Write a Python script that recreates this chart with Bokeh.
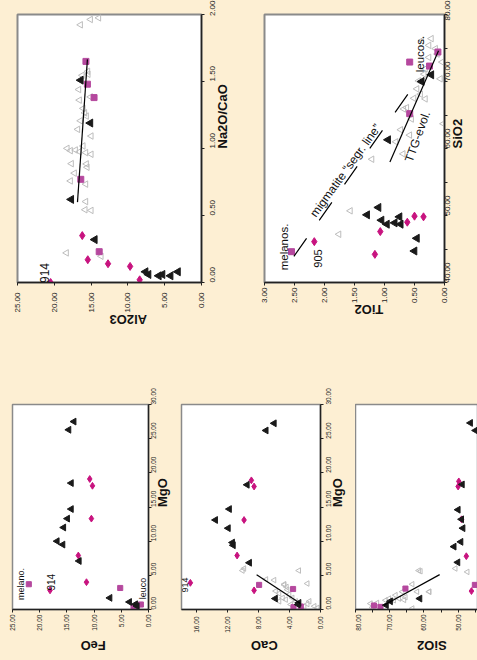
import math
from bokeh.plotting import figure
from bokeh.layouts import column, row
from bokeh.models import Range1d, FixedTicker, PrintfTickFormatter, Label, LinearAxis, Div
from bokeh.embed import file_html
from bokeh.resources import INLINE

BG = "#FDEFD3"
STRIP = "#F8C6A6"
FONT = "Liberation Sans"
BLACK = "#1a1a1a"
MAG = "#C8137F"
PINK = "#B5489E"
GRAY = "#BDBDBD"
HAS_ORIENT = "axis_label_orientation" in LinearAxis.properties()

# ---------------- Panel A: Al2O3 vs Na2O/CaO ----------------
a_blk_ratio = [1.51, 1.19, 0.62, 0.32, 0.08, 0.06, 0.05, 0.06, 0.05, 0.08]
a_blk_al2o3 = [16.4, 15.1, 17.7, 14.5, 7.6, 7.2, 5.8, 5.3, 4.2, 3.2]
a_sq_ratio = [1.65, 1.48, 1.38, 0.77, 0.23]
a_sq_al2o3 = [15.7, 15.5, 14.6, 16.4, 13.9]
a_mag_ratio = [0.35, 0.17, 0.14, 0.12, 0.02, 0.0]
a_mag_al2o3 = [16.2, 15.45, 12.7, 9.7, 8.4, 20.5]
a_gray_ratio = [1.923, 1.963, 1.975, 1.546, 1.576, 1.554, 1.440, 1.385, 1.361, 1.299, 1.266,
                1.242, 1.207, 1.143, 1.093, 1.019, 1.001, 0.984, 0.989, 0.976, 0.969, 0.957,
                0.887, 0.885, 0.860, 0.816, 0.758, 0.734, 0.604, 0.543, 0.538, 0.221, 0.196]
a_gray_al2o3 = [16.44, 15.08, 13.96, 16.21, 15.45, 15.40, 16.67, 15.08, 16.58, 16.08, 15.86,
                15.63, 16.44, 16.81, 14.99, 16.08, 18.25, 17.80, 17.12, 16.58, 15.72, 14.99,
                17.67, 15.63, 15.53, 17.26, 17.80, 15.72, 15.72, 15.81, 14.99, 18.35, 13.63]
a_line_ratio = [0.60, 1.665]
a_line_al2o3 = [16.85, 15.5]
a_al2o3_ticks = [0, 5, 10, 15, 20, 25]
a_ratio_ticks = [0, 0.5, 1.0, 1.5, 2.0]

# ---------------- Panel B: TiO2 vs SiO2 ----------------
b_blk_sio2 = [61.3, 51.2, 50.1, 49.3, 48.7, 48.9, 48.7, 49.8, 46.6, 44.7, 70.0, 71.0]
b_blk_tio2 = [0.94, 1.10, 1.29, 1.05, 0.96, 0.83, 0.73, 0.75, 0.46, 0.50, 0.38, 0.22]
b_mag_sio2 = [46.1, 44.2, 47.6, 49.0, 49.9, 49.8]
b_mag_tio2 = [2.17, 1.16, 1.07, 0.62, 0.50, 0.35]
b_sq_sio2 = [44.6, 72.9, 72.3, 74.4, 65.2]
b_sq_tio2 = [2.55, 0.58, 0.25, 0.11, 0.58]
b_gray_sio2 = [58.4, 50.7, 47.2, 59.2, 62.0, 62.8, 61.0, 63.7, 76.1, 76.4, 73.6, 71.9, 71.1,
               70.1, 68.9, 68.1, 67.5, 67.4, 65.9, 66.1, 64.4, 70.4, 72.9, 74.1, 75.4, 74.9]
b_gray_tio2 = [1.21, 1.57, 1.76, 0.69, 0.58, 0.73, 0.81, 0.02, 0.38, 0.22, 0.26, 0.32, 0.34,
               0.43, 0.46, 0.40, 0.51, 0.32, 0.68, 0.63, 0.55, 0.07, 0.04, 0.12, 0.26, 0.15]
b_ttg_sio2 = [58.0, 74.6]
b_ttg_tio2 = [0.91, 0.10]
b_segr_sio2 = [43.9, 69.0]
b_segr_tio2 = [2.51, 0.54]
b_tio2_ticks = [0, 0.5, 1.0, 1.5, 2.0, 2.5, 3.0]
b_sio2_ticks = [40, 50, 60, 70, 80]
b_sio2_minor = [45, 55, 65, 75]

# ---------------- Panel C: FeO vs MgO ----------------
c_blk_mgo = [27.5, 26.3, 18.5, 14.7, 13.3, 12.0, 10.0, 9.5, 7.1, 1.7, 1.1, 0.77, 0.48]
c_blk_feo = [13.7, 14.65, 14.2, 14.2, 14.9, 15.6, 16.8, 15.75, 12.75, 7.1, 3.5, 2.4, 2.1]
c_mag_mgo = [19.1, 18.1, 13.3, 7.9, 4.0, 2.8]
c_mag_feo = [10.8, 10.3, 10.5, 12.9, 11.4, 18.1]
c_sq_mgo = [3.7, 3.15, 0.29, 0.73, 0.58]
c_sq_feo = [22.0, 5.2, 2.75, 1.4, 2.1]
c_feo_ticks = [0, 5, 10, 15, 20, 25]
mgo_ticks = [0, 5, 10, 15, 20, 25, 30]

# ---------------- Panel D: CaO vs MgO ----------------
d_blk_mgo = [27.25, 26.2, 18.25, 14.7, 13.1, 11.9, 9.8, 9.4, 6.84, 1.6, 0.97, 0.73]
d_blk_cao = [6.0, 7.05, 9.5, 11.8, 13.6, 11.95, 11.4, 11.3, 9.2, 5.85, 2.8, 2.9]
d_mag_mgo = [18.9, 18.0, 13.1, 7.9, 2.8, 3.9]
d_mag_cao = [8.95, 8.6, 9.9, 10.8, 8.6, 16.85]
d_sq_mgo = [3.6, 3.0, 0.34, 0.44]
d_sq_cao = [7.95, 3.55, 3.5, 2.55]
d_gray_mgo = [6.0, 5.7, 4.4, 5.7, 3.8, 3.6, 2.9, 2.2, 1.7, 1.2, 1.45, 1.7, 1.2, 0.8, 1.2,
              0.48, 0.24, 0.48, 0.73, 4.3, 3.7, 3.3, 2.7, 2.35]
d_gray_cao = [9.9, 10.1, 7.05, 2.8, 1.7, 4.7, 4.3, 4.05, 4.9, 5.35, 4.5, 3.65, 3.2, 1.7, 1.45,
              0.8, 0.4, 2.1, 3.85, 6.0, 4.7, 4.4, 5.8, 5.35]
d_line_mgo = [5.1, 0.88]
d_line_cao = [8.27, 2.6]
d_cao_ticks = [0, 4, 8, 12, 16]

# ---------------- Panel E: SiO2 vs MgO ----------------
e_blk_mgo = [27.3, 26.2, 18.3, 14.6, 13.2, 11.9, 9.9, 9.2, 6.9, 1.6, 0.63, 1.2]
e_blk_sio2 = [46.4, 44.9, 48.8, 50.0, 49.0, 48.6, 49.2, 51.2, 50.1, 61.2, 71.0, 69.8]
e_mag_mgo = [18.75, 18.0, 13.2, 7.8, 2.7]
e_mag_sio2 = [49.8, 50.0, 49.0, 47.6, 46.1]
e_sq_mgo = [0.58, 0.38, 3.06, 3.6]
e_sq_sio2 = [74.6, 72.7, 65.4, 45.1]
e_gray_mgo = [5.6, 3.7, 2.6, 2.6, 2.1, 1.8, 1.6, 1.35, 1.35, 0.96, 0.87, 0.29, 0.15, 5.7,
              6.0, 5.5, 2.6, 2.6, 1.4, 1.6]
e_gray_sio2 = [61.0, 63.4, 58.4, 66.3, 68.3, 65.4, 67.3, 68.8, 71.2, 73.7, 75.6, 75.1, 63.4,
               61.5, 50.8, 47.3, 58.5, 62.0, 65.8, 70.2]
e_line_mgo = [0.63, 5.1]
e_line_sio2 = [71.7, 55.4]
e_sio2_ticks = [50, 60, 70, 80]
e_sio2_minor = [45, 55, 65, 75]


def make_fig(xr, yr, fw, fh, mbl, mbr, mbt, mbb, yaxis=True, outline=2):
    p = figure(frame_width=fw, frame_height=fh, x_range=Range1d(*xr), y_range=Range1d(*yr),
               min_border_left=mbl, min_border_right=mbr, min_border_top=mbt,
               min_border_bottom=mbb, x_axis_location="below",
               y_axis_location="right" if yaxis else None,
               toolbar_location=None, output_backend="svg",
               background_fill_color="white", border_fill_color=BG,
               outline_line_color="#8a8a8a", outline_line_width=outline)
    p.xgrid.grid_line_color = None
    p.ygrid.grid_line_color = None
    return p


def style_axis(ax, ticks, minor, size, standoff, title, title_standoff, side,
               title_size="13px", color="#222222"):
    ax.ticker = FixedTicker(ticks=ticks, minor_ticks=minor)
    ax.formatter = PrintfTickFormatter(format="%.2f")
    ax.major_label_orientation = math.pi / 2
    ax.major_label_text_font = FONT
    ax.major_label_text_font_size = size
    ax.major_label_text_color = "#222222"
    ax.major_label_standoff = standoff
    ax.major_tick_in = 0
    ax.major_tick_out = 3
    ax.minor_tick_in = 0
    ax.minor_tick_out = 3 if minor else 0
    ax.axis_line_color = color
    ax.axis_line_width = 1.5
    ax.major_tick_line_color = color
    ax.minor_tick_line_color = color
    ax.axis_label = title
    ax.axis_label_text_font = FONT
    ax.axis_label_text_font_size = title_size
    ax.axis_label_text_font_style = "bold"
    ax.axis_label_text_color = "#111111"
    ax.axis_label_standoff = title_standoff
    if HAS_ORIENT:
        ax.axis_label_orientation = math.pi if side == "below" else math.pi / 2


def add_label(p, x, y, text, size, angle):
    p.add_layout(Label(x=x, y=y, text=text, text_font=FONT, text_font_size=size,
                       angle=angle, text_align="center", text_baseline="middle",
                       text_color="#111111"))


def points(p, x_blk, y_blk, x_mag, y_mag, x_sq, y_sq, x_gray=None, y_gray=None, small=False):
    s = 0.85 if small else 1.0
    if x_gray is not None:
        p.scatter(x_gray, y_gray, marker="triangle", angle=math.pi / 2, size=6.5 * s,
                  fill_color=None, line_color=GRAY, line_width=1)
    p.scatter(x_sq, y_sq, marker="square", size=6 * s, fill_color=PINK, line_color=PINK)
    p.scatter(x_mag, y_mag, marker="diamond", size=8 * s, fill_color=MAG, line_color=MAG)
    p.scatter(x_blk, y_blk, marker="triangle", angle=math.pi / 2, size=8 * s,
              fill_color=BLACK, line_color=BLACK)


# ---- Panel A ----
pA = make_fig((25, 0), (0, 2), 184, 268, 17, 51, 14, 63)
style_axis(pA.xaxis[0], a_al2o3_ticks, [], "8px", 7, "Al2O3", 4, "below")
style_axis(pA.yaxis[0], a_ratio_ticks, [], "8px", 8, "Na2O/CaO", 2, "right")
points(pA, a_blk_al2o3, a_blk_ratio, a_mag_al2o3, a_mag_ratio, a_sq_al2o3, a_sq_ratio,
       a_gray_al2o3, a_gray_ratio)
pA.line(a_line_al2o3, a_line_ratio, line_color="black", line_width=1.2)
add_label(pA, 21.33, 0.071, "914", "12px", math.pi / 2)

# ---- Panel B ----
pB = make_fig((3, 0), (40, 80), 180, 268, 12, 32, 14, 63)
style_axis(pB.xaxis[0], b_tio2_ticks, [], "8px", 2, "TiO2", 3, "below")
style_axis(pB.yaxis[0], b_sio2_ticks, b_sio2_minor, "8px", 0, "SiO2", 2, "right")
points(pB, b_blk_tio2, b_blk_sio2, b_mag_tio2, b_mag_sio2, b_sq_tio2, b_sq_sio2,
       b_gray_tio2, b_gray_sio2)
pB.line(b_ttg_tio2, b_ttg_sio2, line_color="black", line_width=1.2)
pB.line(b_segr_tio2, b_segr_sio2, line_color="black", line_width=1.2, line_dash="22 22")
add_label(pB, 2.667, 45.30, "melanos.", "11.5px", math.pi / 2)
add_label(pB, 2.108, 43.58, "905", "11px", math.pi / 2)
add_label(pB, 1.65, 56.72, "migmatite \u201csegr. line\u201d", "12px", math.radians(54))
add_label(pB, 0.45, 61.79, "TTG-evol.", "12px", math.radians(70))
add_label(pB, 0.408, 74.10, "leucos.", "11.5px", math.pi / 2)

# ---- Panel C ----
pC = make_fig((25, 0), (0, 30), 136, 205, 12, 30, 59, 47, outline=1.5)
style_axis(pC.xaxis[0], c_feo_ticks, [], "6.5px", 2, "FeO", 12, "below")
style_axis(pC.yaxis[0], mgo_ticks, [], "6.5px", 2, "MgO", 1, "right")
points(pC, c_blk_feo, c_blk_mgo, c_mag_feo, c_mag_mgo, c_sq_feo, c_sq_mgo, small=True)
add_label(pC, 23.35, 3.73, "melano.", "9px", math.pi / 2)
add_label(pC, 18.01, 3.995, "914", "10px", math.pi / 2)
add_label(pC, 1.01, 3.07, "leuco", "9px", math.pi / 2)

# ---- Panel D ----
pD = make_fig((18, 0), (0, 30), 139, 205, 1, 35, 59, 47, outline=1.5)
style_axis(pD.xaxis[0], d_cao_ticks, [], "6.5px", 4, "CaO", 10, "below")
style_axis(pD.yaxis[0], mgo_ticks, [], "6.5px", 5, "MgO", 1, "right")
points(pD, d_blk_cao, d_blk_mgo, d_mag_cao, d_mag_mgo, d_sq_cao, d_sq_mgo,
       d_gray_cao, d_gray_mgo, small=True)
pD.line(d_line_cao, d_line_mgo, line_color="black", line_width=1.2)
add_label(pD, 17.55, 3.585, "914", "9px", math.pi / 2)

# ---- Panel E ----
pE = make_fig((80, 44.04), (0, 30), 123, 205, 0, 0, 59, 47, yaxis=False, outline=1.5)
style_axis(pE.xaxis[0], e_sio2_ticks, e_sio2_minor, "6.5px", 2, "SiO2", 12, "below")
points(pE, e_blk_sio2, e_blk_mgo, e_mag_sio2, e_mag_mgo, e_sq_sio2, e_sq_mgo,
       e_gray_sio2, e_gray_mgo, small=True)
pE.line(e_line_sio2, e_line_mgo, line_color="black", line_width=1.2)

bg = {"background-color": BG}
strip = Div(text="", width=476, height=3, styles={"background-color": STRIP})
layout = column(row(pA, pB, styles=bg), row(pC, pD, pE, styles=bg), strip, styles=bg)
open("out.html", "w").write(file_html(layout, INLINE))
